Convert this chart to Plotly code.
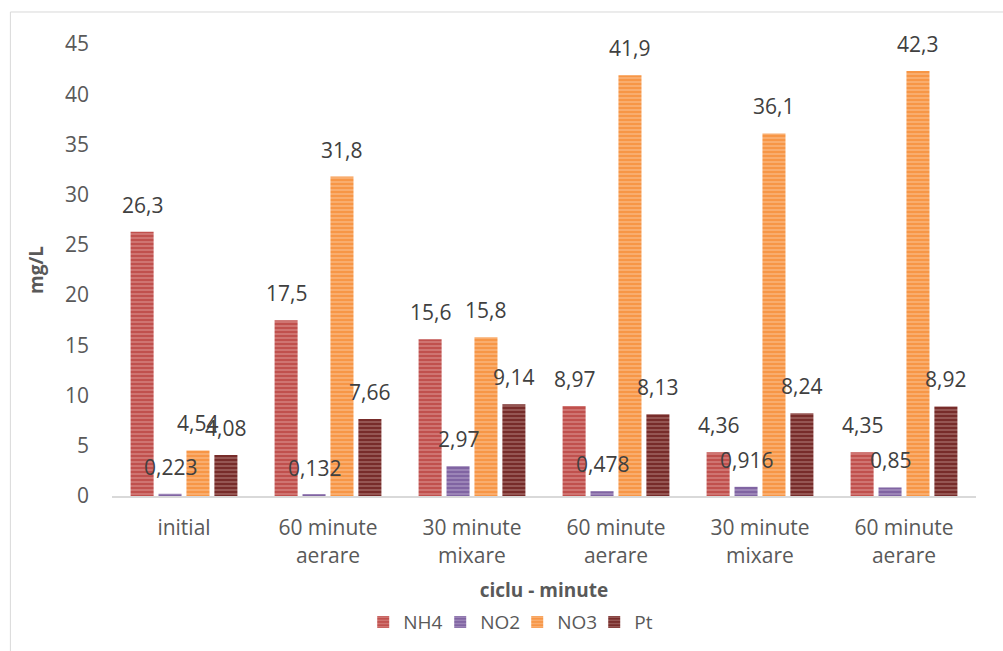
import plotly.graph_objects as go

categories = ["initial", "60 minute<br>aerare", "30 minute<br>mixare",
              "60 minute<br>aerare", "30 minute<br>mixare", "60 minute<br>aerare"]
nh4 = [26.3, 17.5, 15.6, 8.97, 4.36, 4.35]
no2 = [0.223, 0.132, 2.97, 0.478, 0.916, 0.85]
no3 = [4.54, 31.8, 15.8, 41.9, 36.1, 42.3]
pt = [4.08, 7.66, 9.14, 8.13, 8.24, 8.92]

series = [
    ("NH4", nh4, "#c0504d", "#eab7b5"),
    ("NO2", no2, "#8064a2", "#cdbfe0"),
    ("NO3", no3, "#f79646", "#fdd6b6"),
    ("Pt", pt, "#772c2a", "#cfa2a0"),
]

x_idx = list(range(len(categories)))
BAR_W = 0.16
PITCH = 0.194

def fmt(v):
    return f"{v:g}".replace(".", ",")

fig = go.Figure()
annotations = []
for k, (name, vals, col, light) in enumerate(series):
    center = (k - 1.5) * PITCH
    fig.add_trace(go.Bar(
        name=name, x=x_idx, y=vals,
        width=BAR_W, offset=center - BAR_W / 2,
        marker=dict(color=col, line=dict(width=0),
                    pattern=dict(shape="-", fgcolor=light, bgcolor=col,
                                 size=4, solidity=0.35, fillmode="overlay")),
    ))
    for i, v in zip(x_idx, vals):
        annotations.append(dict(
            x=i + center, y=v, xref="x", yref="y", text=fmt(v),
            showarrow=False, yanchor="bottom", yshift=11,
            font=dict(family="'Open Sans', sans-serif", size=21, color="#404040"),
        ))

fig.update_layout(
    width=1003, height=651,
    paper_bgcolor="white", plot_bgcolor="white",
    font=dict(family="'Open Sans', sans-serif", color="#595959"),
    margin=dict(l=112, r=27, t=44, b=155, autoexpand=False),
    barmode="overlay",
    legend=dict(orientation="h", x=0.469, xanchor="center", y=-0.279, yanchor="middle",
                font=dict(size=19, color="#595959"), itemwidth=30,
                entrywidth=32, entrywidthmode="pixels",
                traceorder="normal"),
    xaxis=dict(
        tickmode="array", tickvals=x_idx, ticktext=categories,
        range=[-0.5, 5.5], showline=True, linecolor="#d9d9d9", linewidth=2,
        ticks="", tickfont=dict(size=21, color="#595959"), automargin=False,
        ticklabelstandoff=12,
        title=dict(text="<b>ciclu - minute</b>", font=dict(size=19, color="#595959"),
                   standoff=16),
        showgrid=False, zeroline=False,
    ),
    yaxis=dict(
        range=[0, 45], dtick=5, showgrid=False, zeroline=False, showline=False,
        ticks="", tickfont=dict(size=21, color="#595959"), ticklabelstandoff=22,
        automargin=False,
        title=dict(text="<b>mg/L</b>", font=dict(size=19, color="#595959"),
                   standoff=16),
    ),
    annotations=annotations,
    shapes=[
        dict(type="line", xref="paper", yref="paper", x0=-0.1176, x1=1.05,
             y0=1.0708, y1=1.0708, line=dict(color="#d9d9d9", width=1)),
        dict(type="line", xref="paper", yref="paper", x0=-0.1176, x1=-0.1176,
             y0=1.0708, y1=-0.36, line=dict(color="#d9d9d9", width=1)),
    ],
)

fig.write_html("out.html")
